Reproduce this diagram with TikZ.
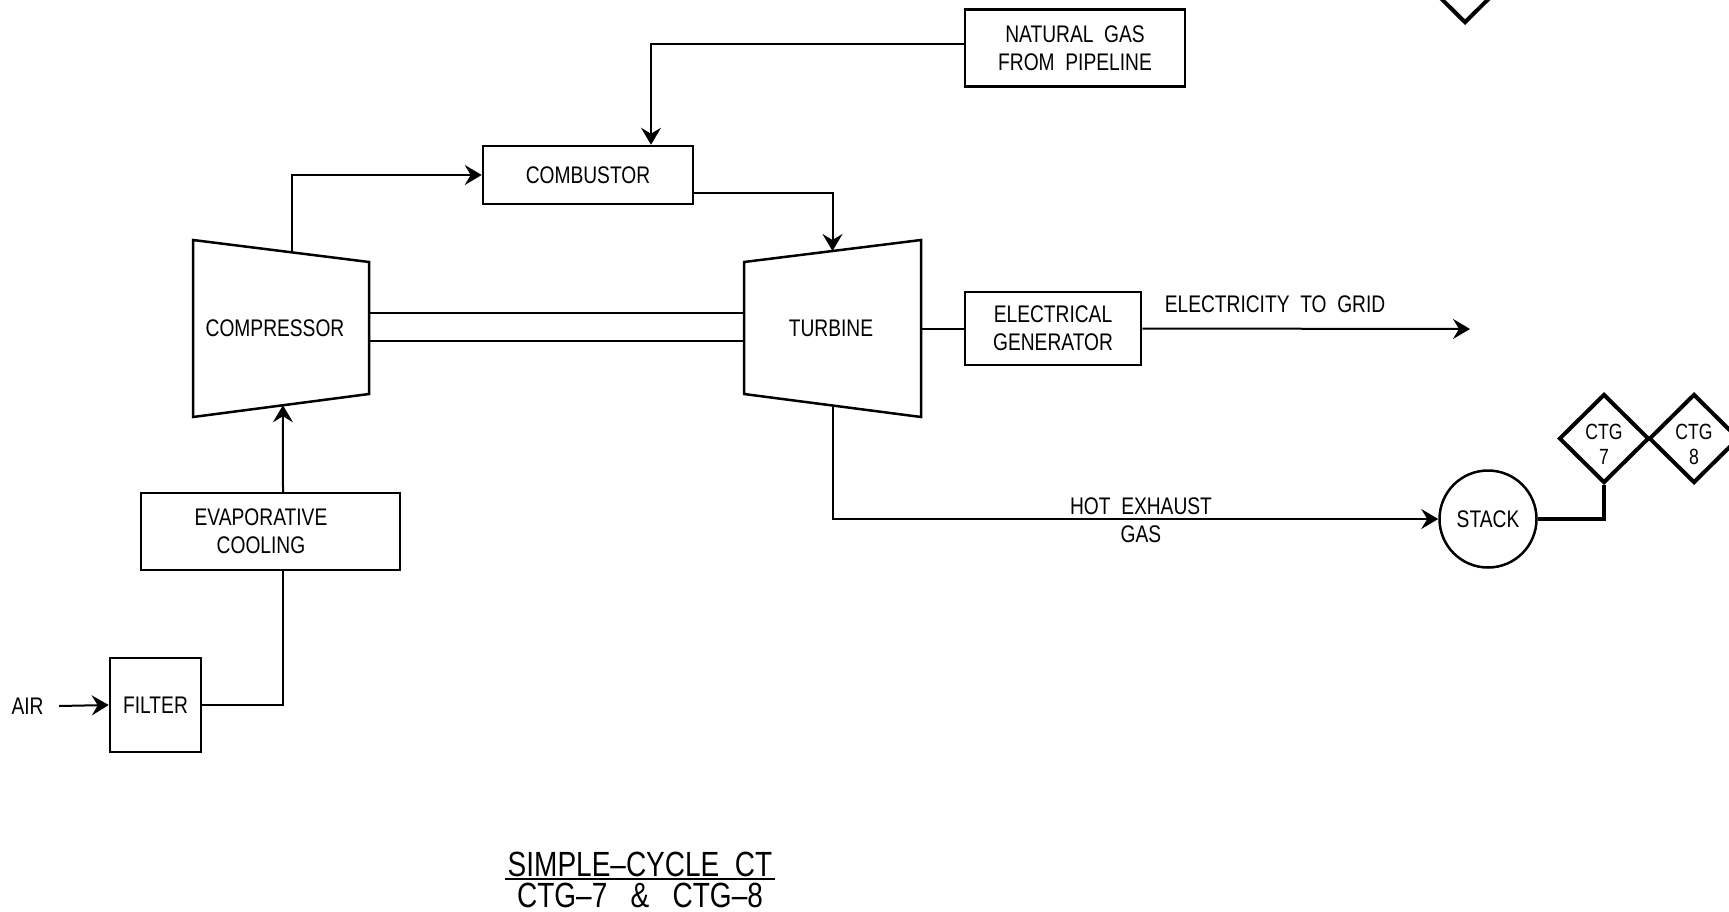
\documentclass[tikz,border=0pt]{standalone}
\usepackage{fontspec}
\setmainfont{Liberation Sans}[FakeStretch=0.8]
\usetikzlibrary{arrows.meta,calc,shapes.geometric}

\begin{document}
\begin{tikzpicture}[
  x=1pt, y=-1pt,
  font=\fontsize{24}{28}\selectfont,
  >={Stealth[length=17pt, width=20pt, inset=6pt]},
BoxStyle/.style={draw, line width=2.5pt, inner sep=0pt, align=center},
UnitStyle/.style={draw, line width=2.5pt, line join=miter},
FlowLine/.style={line width=2pt},
FlowArrow/.style={line width=2pt, ->},
StackLine/.style={line width=4.5pt},
CtgStyle/.style={draw, diamond, line width=4pt, minimum width=90pt,
                 minimum height=89pt, inner sep=0pt},
CtgText/.style={align=center, yshift=-6pt, font=\fontsize{22}{25}\selectfont},
TitleStyle/.style={font=\fontsize{35}{38}\selectfont},
  ]
\useasboundingbox (0,0) rectangle (1729,911);
\clip (0,0) rectangle (1729,911);

\coordinate (c1) at (193,240);
\coordinate (c2) at (369,262);
\coordinate (c3) at (369,394);
\coordinate (c4) at (193,417);
\draw [UnitStyle] (c1) -- (c2) -- (c3) -- (c4) -- cycle;
\node (comp) at (275,328) {COMPRESSOR};

\coordinate (t1) at (744,262);
\coordinate (t2) at (921,240);
\coordinate (t3) at (921,417);
\coordinate (t4) at (744,394);
\draw [UnitStyle] (t1) -- (t2) -- (t3) -- (t4) -- cycle;
\node (turb) at (831,328) {TURBINE};

\node [BoxStyle, minimum width=220pt, minimum height=77pt] (gas) at (1075,48)
      {NATURAL~~GAS\\FROM~~PIPELINE};
\node [BoxStyle, minimum width=210pt, minimum height=58pt] (comb) at (588,175)
      {COMBUSTOR};
\node [BoxStyle, minimum width=176pt, minimum height=73pt] (gen) at (1053,328.5)
      {ELECTRICAL\\GENERATOR};
\node [BoxStyle, minimum width=259pt, minimum height=77pt] (evap) at (270.5,531.5) {};
\node [align=center] (evaptxt) at (261,531.5) {EVAPORATIVE\\COOLING};
\node [BoxStyle, minimum width=91pt, minimum height=94pt] (filter) at (155.5,705)
      {FILTER};
\node (air) at (27.6,706) {AIR};

\node [draw, circle, line width=2.5pt, minimum size=97pt, inner sep=0pt] (stack)
      at (1488,519) {STACK};
\node [CtgStyle, label={[CtgText]center:CTG\\7}] (ctg7) at (1604,438.5) {};
\node [CtgStyle, label={[CtgText]center:CTG\\8}] (ctg8) at (1694,438.5) {};
\node [CtgStyle] (ctg0) at (1465,-21.5) {};

\coordinate (grid) at (1470,329);
\node (gridtxt) at (1275,304) {ELECTRICITY~~TO~~GRID};
\node [align=center] (exhaust) at (1141,520.5) {HOT~~EXHAUST\\GAS};

\draw [FlowArrow] ([xshift=12pt]air.east) -- (filter.west);
\draw [FlowLine] (filter.east) -| ([xshift=12.5pt]evap.south);
\draw [FlowArrow] ([xshift=12.5pt]evap.north) -- ($(c4)!0.511!(c3)$);
\draw [FlowArrow] ($(c1)!0.5625!(c2)$) |- (comb.west);
\draw [FlowArrow] ([yshift=4pt]gas.west) -| ([xshift=63pt]comb.north);
\draw [FlowArrow] ([yshift=-18pt]comb.east) -| ($(t1)!0.5!(t2)$);
\draw [FlowLine] ($(c2)!0.386!(c3)$) -- ($(t1)!0.386!(t4)$);
\draw [FlowLine] ($(c2)!0.598!(c3)$) -- ($(t1)!0.598!(t4)$);
\draw [FlowLine] ($(t2)!0.5!(t3)$) -- (gen.west);
\draw [FlowArrow] (gen.east) -- (grid);
\draw [FlowArrow] ($(t4)!0.5!(t3)$) |- (stack.west);
\draw [StackLine] (stack.east) -| (ctg7.south);

\node [TitleStyle, inner xsep=2.5pt, inner ysep=2pt] (title) at (640,864) {SIMPLE--CYCLE~~CT};
\node [TitleStyle, inner sep=0pt] (subtitle) at (640,895.5) {CTG--7~~~\&~~~CTG--8};
\draw [FlowLine] (title.south west) -- (title.south east);
\end{tikzpicture}
\end{document}
